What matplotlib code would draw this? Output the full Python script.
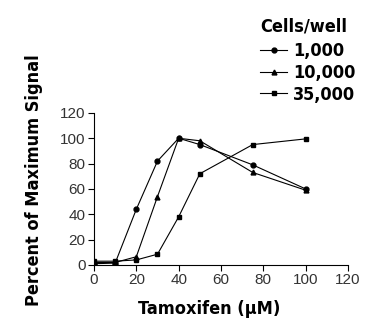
import matplotlib
matplotlib.use('Agg')
import matplotlib.pyplot as plt
from matplotlib import font_manager

# Tamoxifen dose (uM) and percent of max signal per seeding density
tamoxifen = [0, 10, 20, 30, 40, 50, 75, 100]
cells_1000 = [1, 1.5, 44, 82, 100, 95, 79, 60]
cells_10000 = [2, 2, 6.5, 54, 100, 98, 73, 59]
cells_35000 = [3, 3, 4, 8.5, 38, 72, 95, 99.5]

labels = ['1,000', '10,000', '35,000']
markers = ['o', '^', 's']


# Look for a narrow bold face, else use Liberation Sans bold a bit smaller
def pick_bold():
    for fam in ['Liberation Sans Narrow', 'DejaVu Sans']:
        fp = font_manager.FontProperties(family=fam, weight='bold', stretch='condensed')
        try:
            path = font_manager.findfont(fp, fallback_to_default=False)
        except Exception:
            continue
        if 'Narrow' in path or 'Condensed' in path:
            return {'family': [fam, 'DejaVu Sans'], 'stretch': 'condensed', 'size': 13}
    return {'family': ['Liberation Sans', 'DejaVu Sans'], 'stretch': 'normal', 'size': 11.5}


bold = pick_bold()
tick_font = ['Liberation Sans', 'DejaVu Sans']

fig = plt.figure(figsize=(3.76, 3.35), dpi=100)
ax = fig.add_axes([0.25, 0.209, 0.6755, 0.454])

for series, lab, m in zip([cells_1000, cells_10000, cells_35000], labels, markers):
    ax.plot(tamoxifen, series, color='black', linewidth=0.8, marker=m,
            markersize=3.5, label=lab)

ax.set_xlim(0, 120)
ax.set_ylim(0, 120)
ax.set_xticks(range(0, 121, 20))
ax.set_yticks(range(0, 121, 20))
ax.spines['top'].set_visible(False)
ax.spines['right'].set_visible(False)
ax.tick_params(direction='out', length=4, width=0.8, labelsize=11, pad=2)
for lbl in ax.get_xticklabels() + ax.get_yticklabels():
    lbl.set_family(tick_font)
    lbl.set_color('#333333')

label_kw = dict(family=bold['family'], fontweight='bold', fontsize=bold['size'],
                fontstretch=bold['stretch'])
ax.set_xlabel('Tamoxifen (\u00b5M)', **label_kw)
ax.xaxis.set_label_coords(0.455, -0.23)
ax.set_ylabel('Percent of Maximum Signal', **label_kw)
ax.yaxis.set_label_coords(-0.20, 0.56)

leg = ax.legend(loc='upper left', bbox_to_anchor=(0.668, 0.975),
                bbox_transform=fig.transFigure, frameon=False,
                title='Cells/well', handlelength=1.5, handletextpad=0.3,
                labelspacing=0.2, borderpad=0,
                prop={'family': bold['family'], 'weight': 'bold',
                      'size': bold['size'], 'stretch': bold['stretch']})
leg.get_title().set_fontfamily(bold['family'])
leg.get_title().set_fontweight('bold')
leg.get_title().set_fontsize(bold['size'])
leg.get_title().set_fontstretch(bold['stretch'])
leg._legend_box.align = 'left'
leg._legend_box.sep = 5

fig.savefig('out.png', dpi=100)
